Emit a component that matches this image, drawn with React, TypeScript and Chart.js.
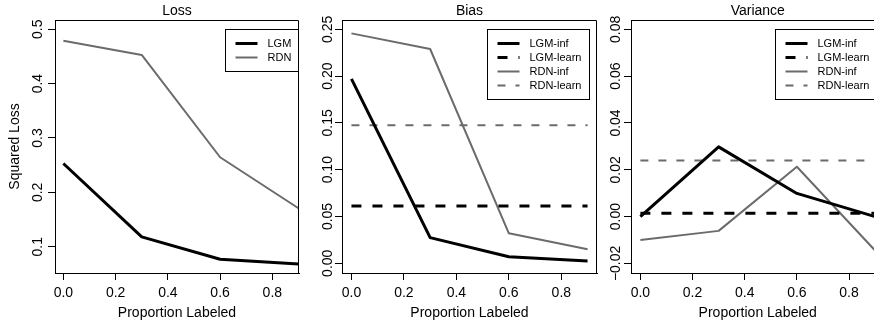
import React, { useEffect, useRef } from 'react';
import { Chart, registerables } from 'chart.js';

Chart.register(...registerables);

// ---------- data ----------
const proportions = [0, 0.3, 0.6, 0.9];
const xTickValues = [0, 0.2, 0.4, 0.6, 0.8];
const xTickLabels = ['0.0', '0.2', '0.4', '0.6', '0.8'];

const lossLGM = [0.253, 0.118, 0.077, 0.068];
const lossRDN = [0.479, 0.4527, 0.2645, 0.1707];
const lossYTicks = [0.1, 0.2, 0.3, 0.4, 0.5];
const lossYLabels = ['0.1', '0.2', '0.3', '0.4', '0.5'];

const biasLGMInf = [0.197, 0.0274, 0.007, 0.0025];
const biasLGMLearn = [0.0612, 0.0612, 0.0612, 0.0612];
const biasRDNInf = [0.2457, 0.229, 0.032, 0.015];
const biasRDNLearn = [0.1474, 0.1474, 0.1474, 0.1474];
const biasYTicks = [0, 0.05, 0.1, 0.15, 0.2, 0.25];
const biasYLabels = ['0.00', '0.05', '0.10', '0.15', '0.20', '0.25'];

const varLGMInf = [0.0, 0.0298, 0.0099, 0.0];
const varLGMLearn = [0.0014, 0.0014, 0.0014, 0.0014];
const varRDNInf = [-0.01, -0.0061, 0.0213, -0.0145];
const varRDNLearn = [0.024, 0.024, 0.024, 0.024];
const varYTicks = [-0.02, 0, 0.02, 0.04, 0.06, 0.08];
const varYLabels = ['\u22120.02', '0.00', '0.02', '0.04', '0.06', '0.08'];

// ---------- styles ----------
const FONT = "'Liberation Sans', Arial, Helvetica, sans-serif";
const BLACK = '#000000';
const GRAY = '#6b6b6b';

type Kind = 'lgm' | 'lgmDash' | 'rdn' | 'rdnDash';
const styleFor = (kind: Kind) => {
  switch (kind) {
    case 'lgm':
      return { borderColor: BLACK, borderWidth: 3, borderDash: [] as number[] };
    case 'lgmDash':
      return { borderColor: BLACK, borderWidth: 3, borderDash: [10, 11] };
    case 'rdn':
      return { borderColor: GRAY, borderWidth: 2, borderDash: [] as number[] };
    default:
      return { borderColor: GRAY, borderWidth: 2, borderDash: [8, 10] };
  }
};

const makeDataset = (label: string, values: number[], kind: Kind) => ({
  label,
  data: proportions.map((x, i) => ({ x, y: values[i] })),
  ...styleFor(kind),
  backgroundColor: 'transparent',
  pointRadius: 0,
  pointHoverRadius: 0,
  tension: 0,
  fill: false,
  borderJoinStyle: 'round',
  borderCapStyle: 'butt',
});

// ---------- plugins ----------
const boxPlugin = {
  id: 'rBox',
  afterDraw(chart: any) {
    const { ctx, chartArea } = chart;
    ctx.save();
    ctx.strokeStyle = BLACK;
    ctx.lineWidth = 1;
    ctx.beginPath();
    const t = Math.round(chartArea.top) + 0.5;
    const r = Math.round(chartArea.right) - 0.5;
    ctx.moveTo(chartArea.left, t);
    ctx.lineTo(r, t);
    ctx.lineTo(r, chartArea.bottom);
    ctx.stroke();
    ctx.restore();
  },
};

const legendPlugin = {
  id: 'rLegend',
  afterDraw(chart: any, _args: any, opts: any) {
    if (!opts || !opts.show) return;
    const { ctx, chartArea } = chart;
    const ds = chart.data.datasets;
    const n = ds.length;
    const x0 = Math.round(chartArea.left + opts.left) + 0.5;
    const y0 = Math.round(chartArea.top + opts.top) + 0.5;
    const w = opts.width;
    const h = 14 * (n + 1);
    ctx.save();
    ctx.fillStyle = '#ffffff';
    ctx.fillRect(x0, y0, w, h);
    ctx.strokeStyle = BLACK;
    ctx.lineWidth = 1;
    ctx.setLineDash([]);
    ctx.strokeRect(x0, y0, w, h);
    ds.forEach((d: any, i: number) => {
      const y = y0 + 14 * (i + 1);
      ctx.beginPath();
      ctx.strokeStyle = d.borderColor;
      ctx.lineWidth = d.borderWidth;
      ctx.setLineDash(d.borderDash || []);
      ctx.lineDashOffset = 0;
      ctx.moveTo(x0 + 10, y);
      ctx.lineTo(x0 + 32, y);
      ctx.stroke();
      ctx.setLineDash([]);
      ctx.fillStyle = BLACK;
      ctx.font = `11px ${FONT}`;
      ctx.textAlign = 'left';
      ctx.textBaseline = 'middle';
      ctx.fillText(d.label, x0 + 42, y);
    });
    ctx.restore();
  },
};

// ---------- panel ----------
type PanelProps = {
  left: number;
  width: number;
  title: string;
  datasets: any[];
  xMin: number;
  xMax: number;
  yMin: number;
  yMax: number;
  yTicks: number[];
  yLabels: string[];
  yAxisWidth: number;
  yTickPadding: number;
  yTitle?: string;
  padRight: number;
  legendLeft: number;
  legendWidth: number;
};

function Panel(p: PanelProps) {
  const ref = useRef<HTMLCanvasElement | null>(null);
  useEffect(() => {
    if (!ref.current) return;
    const chart = new Chart(ref.current, {
      type: 'line',
      data: { datasets: p.datasets },
      plugins: [boxPlugin, legendPlugin],
      options: {
        animation: false,
        responsive: false,
        devicePixelRatio: 1,
        events: [],
        layout: { padding: { left: 0, top: 0, right: p.padRight, bottom: 0 } },
        plugins: {
          legend: { display: false },
          tooltip: { enabled: false },
          title: {
            display: true,
            text: p.title,
            fullSize: false,
            color: BLACK,
            font: { family: FONT, size: 14, weight: 'normal' },
            padding: { top: 3, bottom: 0.2 },
          },
          rLegend: { show: true, left: p.legendLeft, top: 9.3, width: p.legendWidth },
        } as any,
        scales: {
          x: {
            type: 'linear',
            min: p.xMin,
            max: p.xMax,
            afterBuildTicks: (scale: any) => {
              scale.ticks = xTickValues.map((v) => ({ value: v }));
            },
            afterFit: (scale: any) => {
              scale.height = 54;
            },
            ticks: {
              color: BLACK,
              font: { family: FONT, size: 14 },
              padding: 5,
              maxRotation: 0,
              minRotation: 0,
              autoSkip: false,
              callback: (_v: any, i: number) => xTickLabels[i],
            },
            grid: {
              display: true,
              drawOnChartArea: false,
              drawTicks: true,
              tickLength: 7,
              color: BLACK,
              lineWidth: 1,
            },
            border: { display: true, color: BLACK, width: 1 },
            title: {
              display: true,
              text: 'Proportion Labeled',
              color: BLACK,
              font: { family: FONT, size: 14 },
              padding: { top: 0, bottom: 5.8 },
            },
          },
          y: {
            type: 'linear',
            min: p.yMin,
            max: p.yMax,
            afterBuildTicks: (scale: any) => {
              scale.ticks = p.yTicks.map((v) => ({ value: v }));
            },
            afterFit: (scale: any) => {
              scale.width = p.yAxisWidth;
            },
            ticks: {
              color: BLACK,
              font: { family: FONT, size: 14 },
              padding: p.yTickPadding,
              minRotation: 90,
              maxRotation: 90,
              crossAlign: 'center',
              autoSkip: false,
              callback: (_v: any, i: number) => p.yLabels[i],
            },
            grid: {
              display: true,
              drawOnChartArea: false,
              drawTicks: true,
              tickLength: 7,
              color: BLACK,
              lineWidth: 1,
            },
            border: { display: true, color: BLACK, width: 1 },
            title: {
              display: !!p.yTitle,
              text: p.yTitle || '',
              color: BLACK,
              font: { family: FONT, size: 14 },
              padding: { top: 6.7, bottom: 0 },
            },
          },
        } as any,
      },
    } as any);
    return () => chart.destroy();
  }, []);
  return (
    <canvas
      ref={ref}
      width={p.width}
      height={327}
      style={{ position: 'absolute', left: p.left, top: 0, width: p.width, height: 327, display: 'block' }}
    />
  );
}

export default function App() {
  const lossSets = [makeDataset('LGM', lossLGM, 'lgm'), makeDataset('RDN', lossRDN, 'rdn')];
  const biasSets = [
    makeDataset('LGM-inf', biasLGMInf, 'lgm'),
    makeDataset('LGM-learn', biasLGMLearn, 'lgmDash'),
    makeDataset('RDN-inf', biasRDNInf, 'rdn'),
    makeDataset('RDN-learn', biasRDNLearn, 'rdnDash'),
  ];
  const varSets = [
    makeDataset('LGM-inf', varLGMInf, 'lgm'),
    makeDataset('LGM-learn', varLGMLearn, 'lgmDash'),
    makeDataset('RDN-inf', varRDNInf, 'rdn'),
    makeDataset('RDN-learn', varRDNLearn, 'rdnDash'),
  ];
  return (
    <div
      style={{
        position: 'absolute',
        left: 0,
        top: 0,
        width: 874,
        height: 327,
        overflow: 'hidden',
        background: '#ffffff',
      }}
    >
      <Panel
        left={0}
        width={300}
        title="Loss"
        datasets={lossSets}
        xMin={-0.032}
        xMax={0.902}
        yMin={0.0516}
        yMax={0.517}
        yTicks={lossYTicks}
        yLabels={lossYLabels}
        yAxisWidth={55}
        yTickPadding={0}
        yTitle="Squared Loss"
        padRight={1}
        legendLeft={170}
        legendWidth={73}
      />
      <Panel
        left={300}
        width={300}
        title="Bias"
        datasets={biasSets}
        xMin={-0.036}
        xMax={0.936}
        yMin={-0.0104}
        yMax={0.26}
        yTicks={biasYTicks}
        yLabels={biasYLabels}
        yAxisWidth={42}
        yTickPadding={-6.4}
        padRight={3}
        legendLeft={145}
        legendWidth={102}
      />
      <Panel
        left={590}
        width={300}
        title="Variance"
        datasets={varSets}
        xMin={-0.036}
        xMax={0.936}
        yMin={-0.0241}
        yMax={0.084}
        yTicks={varYTicks}
        yLabels={varYLabels}
        yAxisWidth={41}
        yTickPadding={-9.5}
        padRight={5.5}
        legendLeft={144}
        legendWidth={102}
      />
    </div>
  );
}
